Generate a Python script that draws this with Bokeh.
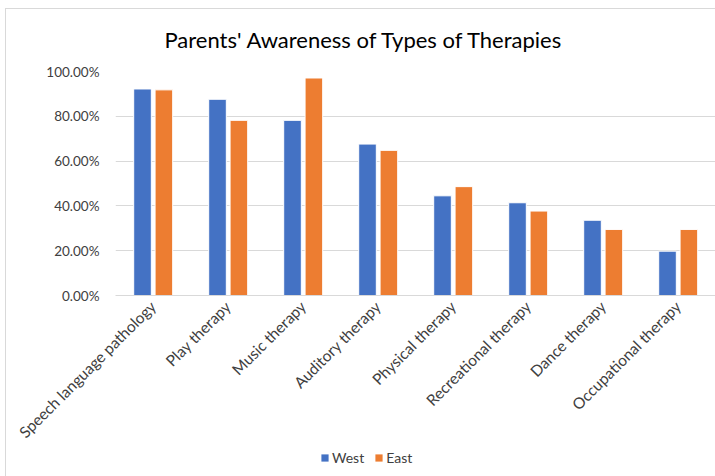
from bokeh.plotting import figure
from bokeh.layouts import column
from bokeh.models import (ColumnDataSource, FactorRange, NumeralTickFormatter,
                          Legend, LegendItem, Title, SingleIntervalTicker)
from bokeh.transform import dodge
from bokeh.embed import file_html
from bokeh.resources import INLINE
import math

categories = ["Speech language pathology", "Play therapy", "Music therapy",
              "Auditory therapy", "Physical therapy", "Recreational therapy",
              "Dance therapy", "Occupational therapy"]
west = [0.922, 0.876, 0.782, 0.676, 0.445, 0.414, 0.336, 0.198]
east = [0.918, 0.782, 0.971, 0.648, 0.486, 0.377, 0.295, 0.295]
series_names = ["West", "East"]
series_colors = ["#4472C4", "#ED7D31"]

FONT = "Lato"
TEXT = "#404040"

src = ColumnDataSource(dict(cat=categories, West=west, East=east))

p = figure(x_range=FactorRange(*categories, range_padding=0),
           y_range=(0, 1.0),
           width=709, height=441,
           output_backend="svg", toolbar_location=None,
           min_border_left=109, min_border_right=0,
           min_border_top=62, min_border_bottom=153,
           outline_line_color=None)

p.vbar(x=dodge("cat", -0.14, range=p.x_range), top="West", width=0.235,
       source=src, fill_color=series_colors[0], line_color="white", line_width=1)
p.vbar(x=dodge("cat", 0.145, range=p.x_range), top="East", width=0.235,
       source=src, fill_color=series_colors[1], line_color="white", line_width=1)

p.title = Title(text="Parents' Awareness of Types of Therapies", align="left",
                vertical_align="top",
                text_font=FONT, text_font_size="22px", text_font_style="normal",
                text_color="#000000", offset=49, standoff=33)

p.yaxis.ticker = SingleIntervalTicker(interval=0.2)
p.yaxis.formatter = NumeralTickFormatter(format="0.00%")
p.yaxis.axis_line_color = None
p.yaxis.major_tick_line_color = None
p.yaxis.minor_tick_line_color = None
p.yaxis.major_label_text_font = FONT
p.yaxis.major_label_text_font_size = "13.5px"
p.yaxis.major_label_text_color = TEXT
p.yaxis.major_label_standoff = 10

p.xaxis.axis_line_color = "#d9d9d9"
p.xaxis.major_tick_line_color = None
p.xaxis.minor_tick_line_color = None
p.xaxis.major_label_orientation = math.pi / 4
p.xaxis.major_label_text_font = FONT
p.xaxis.major_label_text_font_size = "15.5px"
p.xaxis.major_label_text_color = TEXT
p.xaxis.major_label_standoff = 2

p.xgrid.grid_line_color = None
p.ygrid.grid_line_color = "#d9d9d9"
p.ygrid.grid_line_width = 1

# legend strip below the chart
q = figure(width=709, height=26, output_backend="svg", toolbar_location=None,
           min_border=0, outline_line_color=None,
           x_range=(0, 1), y_range=(0, 1))
q.axis.visible = False
q.grid.visible = False
lw = q.vbar(x=[-5], top=[-5], width=0.1, fill_color=series_colors[0], line_color=None)
le = q.vbar(x=[-5], top=[-5], width=0.1, fill_color=series_colors[1], line_color=None)
legend = Legend(items=[LegendItem(label=series_names[0], renderers=[lw]),
                       LegendItem(label=series_names[1], renderers=[le])],
                orientation="horizontal", location=(205, 10),
                glyph_width=9, glyph_height=9, label_standoff=3, spacing=10,
                padding=0, margin=0, border_line_color=None,
                background_fill_alpha=0,
                label_text_font=FONT, label_text_font_size="14px",
                label_text_color=TEXT, label_height=14)
q.add_layout(legend, "center")

layout = column(p, q, spacing=0,
                styles={"margin-left": "5px", "margin-top": "8px",
                        "border-left": "1px solid #d9d9d9",
                        "border-top": "1px solid #d9d9d9"})

open("out.html", "w").write(file_html(layout, INLINE))
